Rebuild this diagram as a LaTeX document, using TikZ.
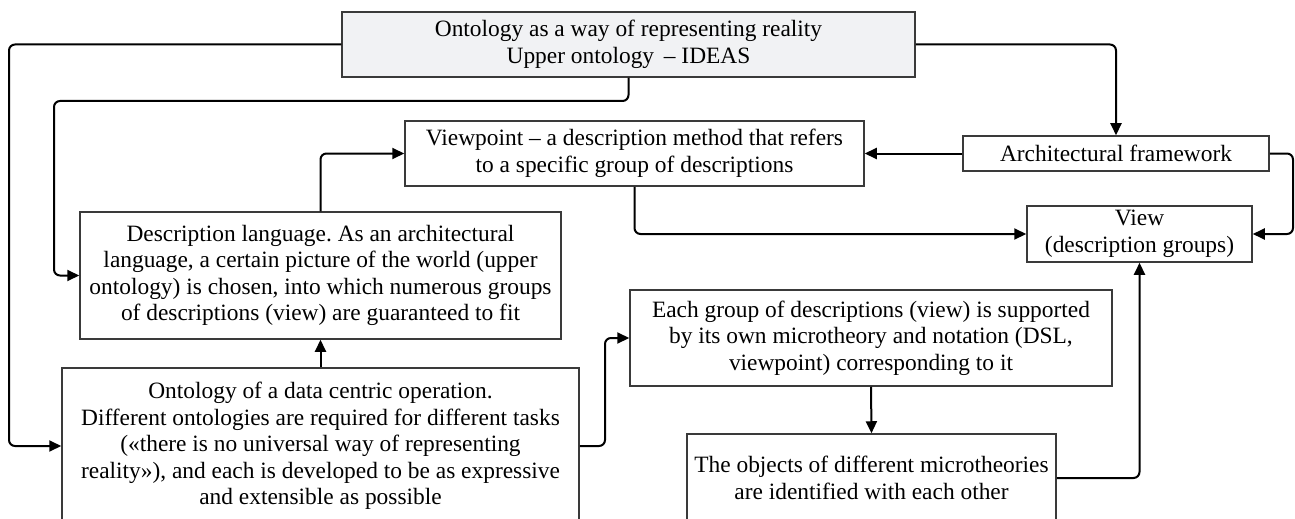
\documentclass[tikz,border=0pt]{standalone}
\usepackage{fontspec}
\setmainfont{Liberation Serif}
\usetikzlibrary{arrows.meta}
\definecolor{boxgray}{HTML}{F1F2F4}
\definecolor{edgegray}{HTML}{3A3A3A}
\frenchspacing
\begin{document}
\begin{tikzpicture}[x=0.5pt,y=-0.5pt,
  box/.style={draw=edgegray,line width=0.75pt,inner sep=0pt,align=center,
    font=\fontsize{11.7}{13.25}\selectfont},
  conn/.style={draw=black,line width=1pt,rounded corners=3pt,
    -{Triangle[length=6pt,width=5.5pt]}}]
\clip (0,0) rectangle (1295,519);

% boxes
\node[box,fill=boxgray,minimum width=286.5pt,minimum height=32.5pt] (top) at (628.5,44.5)
  {Ontology as a way of representing reality\\Upper ontology \,– IDEAS};
\node[box,minimum width=229.5pt,minimum height=32.5pt] (vp) at (634.5,153.5)
  {Viewpoint – a description method that refers\\to a specific group of descriptions};
\node[box,minimum width=153pt,minimum height=17.5pt] (arch) at (1116,153.5)
  {Architectural framework};
\node[box,minimum width=112.5pt,minimum height=28pt] (view) at (1139.5,234)
  {View\\(description groups)};
\node[box,minimum width=240.5pt,minimum height=63.5pt] (desc) at (320.5,275.5)
  {Description language. As an architectural\\language, a certain picture of the world (upper\\ontology) is chosen, into which numerous groups\\of descriptions (view) are guaranteed to fit};
\node[box,minimum width=258.5pt,minimum height=78pt] (onto) at (320.5,446)
  {Ontology of a data centric operation.\\Different ontologies are required for different tasks\\(«there is no universal way of representing\\reality»), and each is developed to be as expressive\\and extensible as possible};
\node[box,minimum width=241pt,minimum height=48pt] (each) at (871,338)
  {Each group of descriptions (view) is supported\\by its own microtheory and notation (DSL,\\viewpoint) corresponding to it};
\node[box,minimum width=184.5pt,minimum height=44pt] (obj) at (871.5,478)
  {The objects of different microtheories\\are identified with each other};

% routing columns and rows
\coordinate (xo) at (9,0);
\coordinate (xi) at (54,0);
\coordinate (yb) at (0,101);
\coordinate (xr) at (1293,0);
\coordinate (xm) at (605,0);

% connectors
\draw[conn] (top.west) -| (xo |- onto.west) -- (onto.west);
\draw[conn] (top.south) -- (top.south |- yb) -| (xi |- desc.west) -- (desc.west);
\draw[conn] (top.east) -| (arch.north);
\draw[conn] (arch.west) -- (vp.east);
\draw[conn] (arch.east) -| (xr |- view.east) -- (view.east);
\draw[conn] (desc.north) |- (vp.west);
\draw[conn] (vp.south) |- (view.west);
\draw[conn] (onto.north) -- (desc.south);
\draw[conn] (onto.east) -| (xm |- each.west) -- (each.west);
\draw[conn] (each.south) -- (obj.north);
\draw[conn] (obj.east) -| (view.south);
\end{tikzpicture}
\end{document}
